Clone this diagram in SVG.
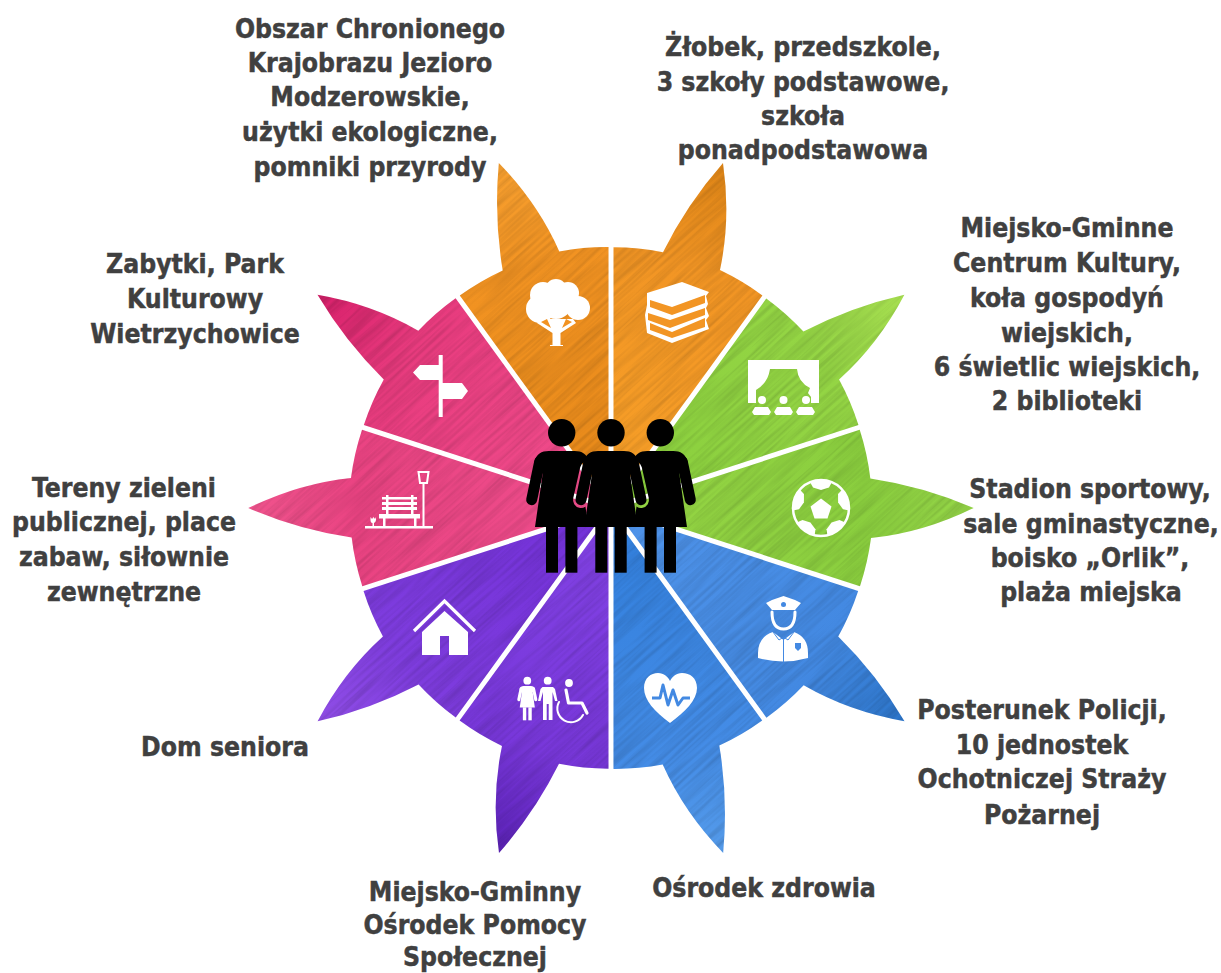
<svg xmlns="http://www.w3.org/2000/svg" width="1221" height="973" viewBox="0 0 1221 973">
<style>
text{font-family:"DejaVu Sans Condensed","DejaVu Sans","Liberation Sans",sans-serif;font-weight:700;font-size:26.3px;fill:#404040;stroke:#404040;stroke-width:.45px;text-anchor:middle}
.w{fill:#fff}
.sl{fill:none;stroke:#fff;stroke-linecap:round;stroke-linejoin:round}
</style>
<defs>
<path id="sector" d="M613.5 500.3V247.3A261 261 0 0 1 663 252.2Q687 204 723 163Q731 218 720 270A261 261 0 0 1 762.4 295.4Z"/>
<linearGradient id="gb" gradientUnits="userSpaceOnUse" x1="611" y1="508" x2="723" y2="163"/>
<linearGradient id="g0" href="#gb"><stop offset="0" stop-color="#f7a028"/><stop offset=".7" stop-color="#f29524"/><stop offset="1" stop-color="#dd8416"/></linearGradient>
<linearGradient id="g1" href="#gb"><stop offset="0" stop-color="#88ce3c"/><stop offset=".7" stop-color="#94d544"/><stop offset="1" stop-color="#a6de50"/></linearGradient>
<linearGradient id="g2" href="#gb"><stop offset="0" stop-color="#96d644"/><stop offset=".7" stop-color="#8ace3e"/><stop offset="1" stop-color="#96d748"/></linearGradient>
<linearGradient id="g3" href="#gb"><stop offset="0" stop-color="#5094ea"/><stop offset=".7" stop-color="#4389e2"/><stop offset="1" stop-color="#2c75ca"/></linearGradient>
<linearGradient id="g4" href="#gb"><stop offset="0" stop-color="#307edc"/><stop offset=".7" stop-color="#448ce6"/><stop offset="1" stop-color="#559bea"/></linearGradient>
<linearGradient id="g5" href="#gb"><stop offset="0" stop-color="#8343e6"/><stop offset=".7" stop-color="#7837da"/><stop offset="1" stop-color="#5c22b8"/></linearGradient>
<linearGradient id="g6" href="#gb"><stop offset="0" stop-color="#7230d8"/><stop offset=".7" stop-color="#7e3cde"/><stop offset="1" stop-color="#904ee6"/></linearGradient>
<linearGradient id="g7" href="#gb"><stop offset="0" stop-color="#ee4e8c"/><stop offset=".7" stop-color="#ea4382"/><stop offset="1" stop-color="#f0548d"/></linearGradient>
<linearGradient id="g8" href="#gb"><stop offset="0" stop-color="#f2508e"/><stop offset=".7" stop-color="#e83b7e"/><stop offset="1" stop-color="#d8206b"/></linearGradient>
<linearGradient id="g9" href="#gb"><stop offset="0" stop-color="#e68818"/><stop offset=".7" stop-color="#f29322"/><stop offset="1" stop-color="#f7a030"/></linearGradient>
<filter id="grain" x="0" y="0" width="1" height="1" color-interpolation-filters="sRGB">
<feTurbulence type="fractalNoise" baseFrequency="0.012 0.3" numOctaves="2" seed="4"/>
<feColorMatrix values="0 0 0 0 0 0 0 0 0 0 0 0 0 0 0 0.26 0 0 0 -0.09"/>
</filter>
<rect id="tex" x="111" y="8" width="1000" height="1000" transform="rotate(-42 611 508)" filter="url(#grain)"/>
<clipPath id="c0"><use href="#sector"/></clipPath>
<clipPath id="c1"><use href="#sector" transform="rotate(36 611 508)"/></clipPath>
<clipPath id="c2"><use href="#sector" transform="rotate(72 611 508)"/></clipPath>
<clipPath id="c3"><use href="#sector" transform="rotate(108 611 508)"/></clipPath>
<clipPath id="c4"><use href="#sector" transform="rotate(144 611 508)"/></clipPath>
<clipPath id="c5"><use href="#sector" transform="rotate(180 611 508)"/></clipPath>
<clipPath id="c6"><use href="#sector" transform="rotate(216 611 508)"/></clipPath>
<clipPath id="c7"><use href="#sector" transform="rotate(252 611 508)"/></clipPath>
<clipPath id="c8"><use href="#sector" transform="rotate(288 611 508)"/></clipPath>
<clipPath id="c9"><use href="#sector" transform="rotate(324 611 508)"/></clipPath>
<g id="figure" fill="currentColor">
<circle cx="0" cy="0" r="13.7"/>
<path d="M-13 18.300H13C20 18.300 25.500 21 27.500 30L19 41L26.700 94.300H-26.700L-19 41L-27.500 30C-25.500 21-20 18.300-13 18.300Z"/>
<path d="M22 29L30 67M-22 29L-30 67" stroke="currentColor" stroke-width="11" stroke-linecap="round"/>
<rect x="-15.700" y="94" width="12" height="46"/>
<rect x="3.700" y="94" width="12" height="46"/>
</g>
<mask id="knock" maskUnits="userSpaceOnUse" x="0" y="0" width="1221" height="973">
<rect width="1221" height="973" fill="#fff"/>
<path d="M588 469L581 500M634 469L641 500" stroke="#000" stroke-width="16" stroke-linecap="round"/>
</mask>
<path id="patch" d="M-11-26Q0-30 11-26L8-20.500L0-18L-8-20.500Z"/>
</defs>
<rect width="1221" height="973" fill="#fff"/>

<g id="connectors"/>

<g id="node-education">
<use href="#sector" fill="url(#g0)"/><g clip-path="url(#c0)"><use href="#tex"/></g>
<path class="w" d="M647 293L682 282L709 292L706 296L708 304L706 308L709 316L706 320L709 329L672 343L647 333L645 315L647 305Z"/>
<path fill="#f29524" d="M650 300L672 307L705 295V303L672 315L650 307ZM648 313L670 320L705 308V315L670 328L648 320ZM650 323L672 332L705 318V327L672 338L650 330Z"/>
<text x="803" y="56">Żłobek, przedszkole,</text><text x="803" y="91">3 szkoły podstawowe,</text><text x="803" y="125">szkoła</text><text x="803" y="159">ponadpodstawowa</text>
</g>

<g id="node-culture">
<use href="#sector" fill="url(#g1)" transform="rotate(36 611 508)"/><g clip-path="url(#c1)"><use href="#tex"/></g>
<path class="w" d="M748 360H819V403H811V397L808 393L810 388Q798 382 797 369H770Q768 383 756 390L756 403H748Z"/>
<circle class="w" cx="762" cy="400" r="4"/><circle class="w" cx="783.500" cy="400" r="4"/><circle class="w" cx="806" cy="400" r="4"/>
<path class="w" d="M755 407H768L771 412L769 415H754L752 412Z"/>
<path class="w" d="M777 407H790L793 412L791 415H776L774 412Z"/>
<path class="w" d="M799 407H812L815 412L813 415H798L796 412Z"/>
<text x="1067" y="237">Miejsko-Gminne</text><text x="1067" y="272">Centrum Kultury,</text><text x="1067" y="307">koła gospodyń</text><text x="1067" y="342">wiejskich,</text><text x="1067" y="376">6 świetlic wiejskich,</text><text x="1067" y="410">2 biblioteki</text>
</g>

<g id="node-sport">
<use href="#sector" fill="url(#g2)" transform="rotate(72 611 508)"/><g clip-path="url(#c2)"><use href="#tex"/></g>
<g transform="translate(821 508)">
<circle r="28" fill="none" stroke="#fff" stroke-width="2.500"/>
<path class="w" d="M0-9.500L10.500-1.500L6.500 10.500H-6.500L-10.500-1.500Z"/>
<use href="#patch" class="w"/><use href="#patch" class="w" transform="rotate(72)"/><use href="#patch" class="w" transform="rotate(144)"/><use href="#patch" class="w" transform="rotate(216)"/><use href="#patch" class="w" transform="rotate(288)"/>
</g>
<text x="1090" y="498">Stadion sportowy,</text><text x="1091" y="533">sale gminastyczne,</text><text x="1090" y="567">boisko „Orlik”,</text><text x="1091" y="601">plaża miejska</text>
</g>

<g id="node-police">
<use href="#sector" fill="url(#g3)" transform="rotate(108 611 508)"/><g clip-path="url(#c3)"><use href="#tex"/></g>
<path class="w" d="M772 600L783.500 596L795 600L801 603L795 610H772L766 603Z"/>
<circle cx="783.500" cy="604.500" r="2.500" fill="#4389e2"/>
<path class="sl" stroke-width="3" d="M772 612Q772 629 783.500 629Q795 629 795 612"/>
<path class="w" d="M758 653Q758 637 773 632L783.500 640L794 632Q808 637 808 653V658Q783 665 758 658Z"/>
<path d="M773 632L779 640L783.500 637L788 640L794 632M783.500 638V662" fill="none" stroke="#4389e2" stroke-width="1"/>
<path fill="#4389e2" d="M795 643H801V648L798 651L795 648Z"/>
<text x="1042" y="719">Posterunek Policji,</text><text x="1042" y="754">10 jednostek</text><text x="1042" y="788">Ochotniczej Straży</text><text x="1042" y="824">Pożarnej</text>
</g>

<g id="node-health">
<use href="#sector" fill="url(#g4)" transform="rotate(144 611 508)"/><g clip-path="url(#c4)"><use href="#tex"/></g>
<path class="w" d="M670 723C655 712 644 700 644 688C644 678 651 673 658 673C664 673 668 677 670 681C672 677 676 673 682 673C690 673 697 678 697 688C697 700 685 712 670 723Z"/>
<path d="M652 698H660L663 685L668 705L673 690L678 705L683 698H690" fill="none" stroke="#4389e2" stroke-width="3" stroke-linejoin="round"/>
<text x="764" y="897">Ośrodek zdrowia</text>
</g>

<g id="node-social">
<use href="#sector" fill="url(#g5)" transform="rotate(180 611 508)"/><g clip-path="url(#c5)"><use href="#tex"/></g>
<use href="#figure" color="#fff" transform="translate(527.300 680.700) scale(.283)"/>
<circle class="w" cx="547.700" cy="680.700" r="3.900"/>
<path class="w" d="M542.500 687H553L555 689L557.500 701H555L552.500 692V720H548.700V704H546.700V720H543V692L540.500 701H538L540.500 689Z"/>
<circle class="w" cx="569" cy="683" r="3.900"/>
<path class="sl" stroke-width="3.200" d="M566 690L568.500 703H582L587 713"/>
<path class="sl" stroke-width="2" d="M559 702A12 12 0 1 0 583 715"/>
<text x="475" y="901">Miejsko-Gminny</text><text x="475" y="934">Ośrodek Pomocy</text><text x="475" y="966">Społecznej</text>
</g>

<g id="node-senior">
<use href="#sector" fill="url(#g6)" transform="rotate(216 611 508)"/><g clip-path="url(#c6)"><use href="#tex"/></g>
<path d="M414 631L444.500 601L475 631" fill="none" stroke="#fff" stroke-width="3.200"/>
<path class="w" d="M422 632L444.500 611L468 632V655H449V636H440V655H422Z"/>
<text x="225" y="756">Dom seniora</text>
</g>

<g id="node-green">
<use href="#sector" fill="url(#g7)" transform="rotate(252 611 508)"/><g clip-path="url(#c7)"><use href="#tex"/></g>
<path class="w" d="M365 526H433V528.500H365ZM422.500 484H424.500V526H422.500ZM379 514H420V518.500H379ZM383 518H385.500V526H383ZM414 518H416.500V526H414ZM382 497H417V499.500H382ZM382 502H417V505H382ZM382 507H417V510H382ZM386 495H388.500V514H386ZM411 495H413.500V514H411Z"/>
<path d="M418.500 472H428.500L427 483H420Z" fill="none" stroke="#fff" stroke-width="2"/>
<path class="w" d="M370.500 517L372 519L373.500 517L375 519L376 517V520Q375.500 523 374 523V526H372.500V523Q370.500 523 370.500 520Z"/>
<text x="124" y="497">Tereny zieleni</text><text x="124" y="531">publicznej, place</text><text x="124" y="566">zabaw, siłownie</text><text x="124" y="601">zewnętrzne</text>
</g>

<g id="node-heritage">
<use href="#sector" fill="url(#g8)" transform="rotate(288 611 508)"/><g clip-path="url(#c8)"><use href="#tex"/></g>
<path class="w" d="M438.700 355H442.700V417H438.700ZM438.700 365V380H420L413 372.500L420 365ZM442.700 383H462L468 391L462 399H442.700Z"/>
<text x="195" y="273">Zabytki, Park</text><text x="195" y="308">Kulturowy</text><text x="195" y="343">Wietrzychowice</text>
</g>

<g id="node-nature">
<use href="#sector" fill="url(#g9)" transform="rotate(324 611 508)"/><g clip-path="url(#c9)"><use href="#tex"/></g>
<g class="w"><circle cx="540" cy="309" r="14"/><circle cx="543" cy="295" r="13"/><circle cx="556" cy="290" r="11"/><circle cx="568" cy="293" r="11"/><circle cx="578" cy="308" r="12"/><circle cx="556" cy="303" r="16"/>
<path d="M552.500 345V333L537 323L540 319H573L576 323L560.500 333V345H563V346H550V345Z"/></g>
<path fill="#f29322" d="M541 322L551 328L547 319ZM572 322L562 328L566 319Z"/>
<text x="370" y="38">Obszar Chronionego</text><text x="370" y="72">Krajobrazu Jezioro</text><text x="370" y="106">Modzerowskie,</text><text x="370" y="141">użytki ekologiczne,</text><text x="370" y="176">pomniki przyrody</text>
</g>

<g id="node-people">
<g mask="url(#knock)"><use href="#figure" transform="translate(561.700 432.700)"/><use href="#figure" transform="translate(660.300 432.700)"/></g>
<use href="#figure" transform="translate(611 432.700)"/>
</g>
</svg>
